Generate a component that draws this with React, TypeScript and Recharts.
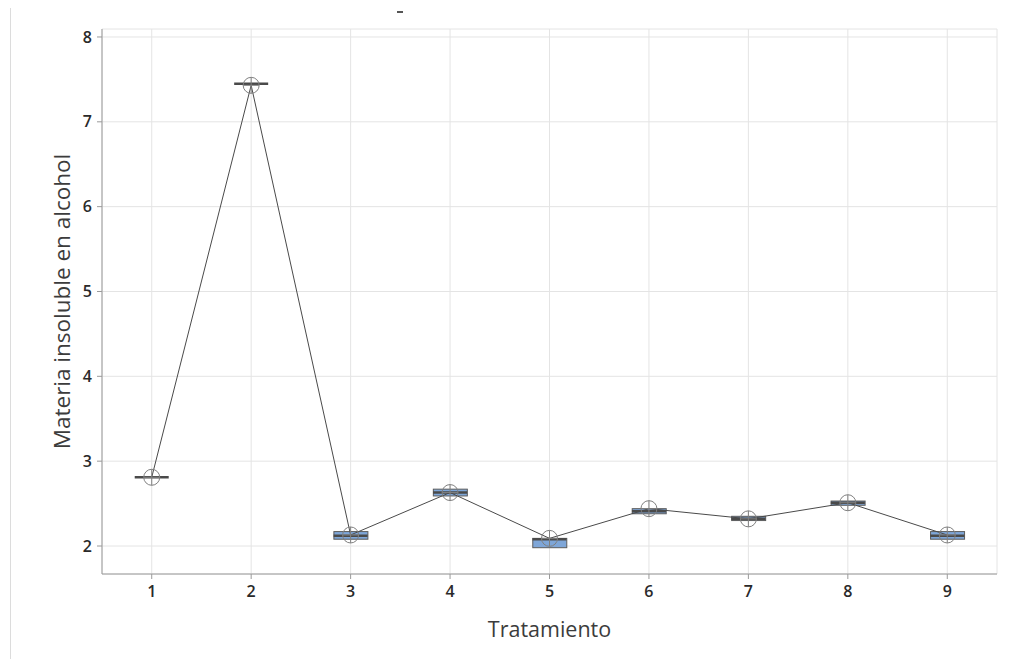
import { ComposedChart, Bar, Line, XAxis, YAxis, CartesianGrid } from 'recharts';

const treatments = ['1', '2', '3', '4', '5', '6', '7', '8', '9'];
const means = [2.81, 7.43, 2.13, 2.63, 2.09, 2.44, 2.32, 2.51, 2.13];
const q1 = [2.81, 7.45, 2.08, 2.59, 1.98, 2.38, 2.3, 2.48, 2.08];
const q3 = [2.81, 7.45, 2.17, 2.67, 2.09, 2.44, 2.35, 2.53, 2.17];
const medians = [2.81, 7.45, 2.12, 2.63, 2.08, 2.41, 2.32, 2.51, 2.12];
const yTicks = [2, 3, 4, 5, 6, 7, 8];

const data = treatments.map((t, i) => ({
  t,
  mean: means[i],
  median: medians[i],
  box: [q1[i], q3[i]],
}));

const FONT = '"Open Sans", "DejaVu Sans", sans-serif';
const BOX_W = 34;
const tickStyle = { fill: '#2a2a2a', fontSize: 16, fontWeight: 600, fontFamily: FONT };

const MeanDot = (p: any) => {
  const { cx, cy } = p;
  if (cx == null || cy == null) return null;
  return (
    <g key={p.index}>
      <circle cx={cx} cy={cy} r={8} fill="none" stroke="#808080" strokeWidth={1} />
      <line x1={cx - 8} x2={cx + 8} y1={cy} y2={cy} stroke="#808080" strokeWidth={1} />
      <line x1={cx} x2={cx} y1={cy - 8} y2={cy + 8} stroke="#808080" strokeWidth={1} />
    </g>
  );
};

const MedianDot = (p: any) => {
  const { cx, cy } = p;
  if (cx == null || cy == null) return null;
  return <line key={p.index} x1={cx - BOX_W / 2} x2={cx + BOX_W / 2} y1={cy} y2={cy} stroke="#4a4a4a" strokeWidth={2.5} />;
};

const BoxShape = (p: any) => {
  const { x, y, width, height } = p;
  return <rect x={x} y={y} width={width} height={Math.max(height, 0)} fill="#7ea6d8" stroke="#5c5c5c" strokeWidth={1} />;
};

export default function App() {
  return (
    <div style={{ position: 'absolute', left: 0, top: 0, width: 1031, height: 659, background: '#fff', fontFamily: FONT }}>
      <div style={{ position: 'absolute', left: 10, top: 8, width: 1, height: 651, background: '#dcdcdc' }} />
      <div style={{ position: 'absolute', left: 397, top: 11, width: 6, height: 2, background: '#555' }} />
      <ComposedChart
        width={1031}
        height={659}
        data={data}
        margin={{ top: 29, right: 34, bottom: 0, left: 42 }}
      >
        <CartesianGrid stroke="#e4e4e4" strokeWidth={1} />
        <XAxis
          dataKey="t"
          tickSize={5}
          tickMargin={7}
          height={85}
          stroke="#9a9a9a"
          tick={tickStyle}
          label={{ value: 'Tratamiento', position: 'center', dy: 13, fill: '#3c3c3c', fontSize: 21.5, fontFamily: FONT }}
        />
        <XAxis xAxisId="top" dataKey="t" orientation="top" height={0} tick={false} tickLine={false} stroke="#9a9a9a" />
        <YAxis
          type="number"
          domain={[1.67, 8.094]}
          ticks={yTicks}
          allowDataOverflow
          width={60}
          tickSize={5}
          tickMargin={5}
          stroke="#9a9a9a"
          tick={tickStyle}
          label={{ value: 'Materia insoluble en alcohol', angle: -90, position: 'center', dx: -10, fill: '#3c3c3c', fontSize: 22.5, fontFamily: FONT }}
        />
        <YAxis yAxisId="right" orientation="right" width={0} tick={false} tickLine={false} stroke="#8c8c8c" strokeWidth={1.5} />
        <Bar dataKey="box" barSize={BOX_W} shape={BoxShape} isAnimationActive={false} />
        <Line dataKey="median" stroke="none" dot={MedianDot} activeDot={false} isAnimationActive={false} />
        <Line dataKey="mean" type="linear" stroke="#4a4a4a" strokeWidth={1} dot={MeanDot} activeDot={false} isAnimationActive={false} />
      </ComposedChart>
    </div>
  );
}
